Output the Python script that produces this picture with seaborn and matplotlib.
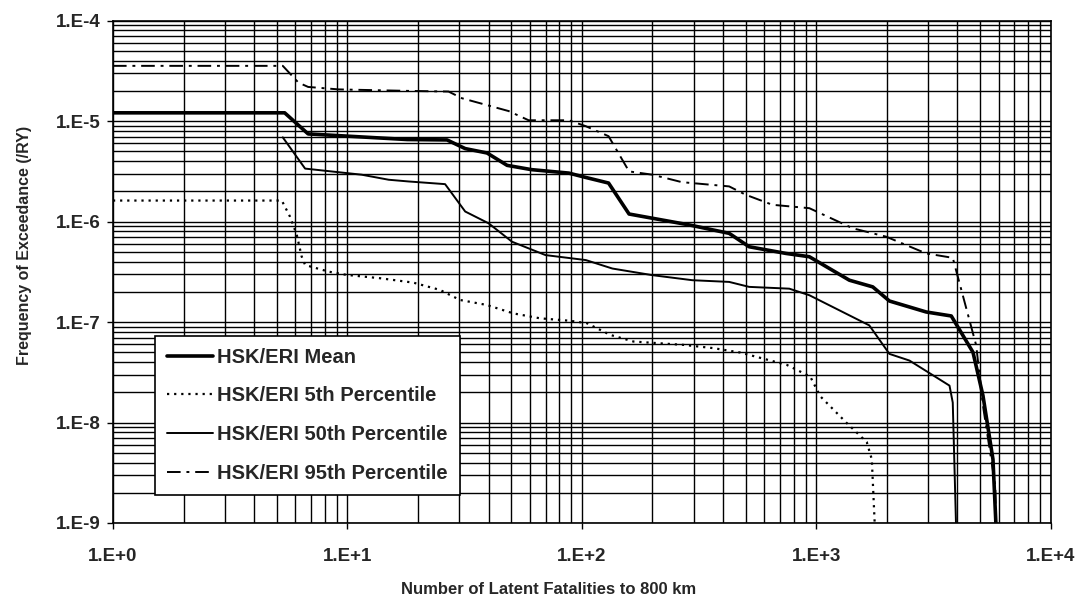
import numpy as np
import pandas as pd
import seaborn as sns
import matplotlib.pyplot as plt
from matplotlib.ticker import LogLocator, FuncFormatter, NullFormatter

# Exceedance curves
mean_x = [1, 5.4, 6.8, 18, 26.6, 31.8, 39.4, 48, 61, 88, 104, 130, 159, 200, 287, 425,
          517, 743, 934, 1384, 1741, 2051, 2943, 3765, 4660, 5140, 5670, 5860]
mean_y = [1.21e-5, 1.21e-5, 7.46e-6, 6.56e-6, 6.5e-6, 5.33e-6, 4.82e-6, 3.63e-6, 3.29e-6,
          3.04e-6, 2.75e-6, 2.42e-6, 1.19e-6, 1.08e-6, 9.27e-7, 7.64e-7, 5.62e-7, 4.82e-7,
          4.47e-7, 2.61e-7, 2.24e-7, 1.62e-7, 1.26e-7, 1.15e-7, 5.0e-8, 1.85e-8, 4.3e-9, 8e-10]

p5_x = [1, 5.25, 5.69, 6.08, 6.38, 6.6, 8.3, 9.9, 13.8, 19.1, 24.8, 30.2, 39.3, 51, 66.3,
        89, 105, 132, 166, 271, 364, 473, 748, 942, 1041, 1350, 1642, 1725, 1782]
p5_y = [1.62e-6, 1.62e-6, 1.12e-6, 7.4e-7, 4.5e-7, 3.7e-7, 3.18e-7, 2.95e-7, 2.73e-7,
        2.47e-7, 2.09e-7, 1.66e-7, 1.48e-7, 1.22e-7, 1.09e-7, 1.03e-7, 9.75e-8, 7.46e-8,
        6.4e-8, 5.93e-8, 5.5e-8, 4.98e-8, 3.75e-8, 2.87e-8, 1.82e-8, 9.86e-9, 6.38e-9,
        4.3e-9, 8e-10]

p50_x = [5.3, 6.6, 11.5, 15, 18.2, 26.1, 31.8, 40, 50.4, 70, 104, 135, 200, 296, 425, 517,
         767, 934, 1683, 2051, 2496, 3700, 3820, 3953]
p50_y = [6.9e-6, 3.37e-6, 2.93e-6, 2.61e-6, 2.51e-6, 2.36e-6, 1.26e-6, 9.62e-7, 6.3e-7,
         4.64e-7, 4.14e-7, 3.41e-7, 2.93e-7, 2.61e-7, 2.51e-7, 2.24e-7, 2.15e-7, 1.85e-7,
         9.27e-8, 4.82e-8, 4.14e-8, 2.33e-8, 1.58e-8, 8e-10]

p95_x = [1, 5.3, 6.18, 6.8, 9.16, 18.2, 27, 30.8, 48.7, 59.3, 88, 104, 130, 159, 200, 267,
         425, 500, 650, 934, 1430, 1985, 2943, 3820, 4810, 5140, 5800, 5860]
p95_y = [3.55e-5, 3.55e-5, 2.42e-5, 2.19e-5, 2.07e-5, 2.0e-5, 1.97e-5, 1.69e-5, 1.26e-5,
         1.02e-5, 1.02e-5, 8.9e-6, 7.08e-6, 3.16e-6, 2.93e-6, 2.47e-6, 2.24e-6, 1.85e-6,
         1.47e-6, 1.36e-6, 8.58e-7, 7.08e-7, 4.82e-7, 4.36e-7, 5.85e-8, 1.47e-8, 2.33e-9, 8e-10]

labels = ["HSK/ERI Mean", "HSK/ERI 5th Percentile",
          "HSK/ERI 50th Percentile", "HSK/ERI 95th Percentile"]

sns.set_style("white")
plt.rcParams['font.family'] = ['Liberation Sans', 'DejaVu Sans']
plt.rcParams['font.weight'] = 'bold'

fig = plt.figure(figsize=(10.8, 6.01), dpi=100)
ax = fig.add_axes([0.1046, 0.1298, 0.8683, 0.8358])

series = [
    (mean_x, mean_y, labels[0], dict(lw=2.6, ls='-')),
    (p5_x, p5_y, labels[1], dict(lw=1.6, ls=(0, (1, 2.2)))),
    (p50_x, p50_y, labels[2], dict(lw=1.4, ls='-')),
    (p95_x, p95_y, labels[3], dict(lw=1.4, ls=(0, (7, 3, 1.5, 3)))),
]
for xs, ys, lab, st in series:
    df = pd.DataFrame({'x': xs, 'y': ys})
    sns.lineplot(data=df, x='x', y='y', ax=ax, color='black', label=lab,
                 estimator=None, sort=False, **st)

ax.set_xscale('log')
ax.set_yscale('log')
ax.set_xlim(1, 1e4)
ax.set_ylim(1e-9, 1e-4)

ax.xaxis.set_major_locator(LogLocator(base=10, numticks=10))
ax.yaxis.set_major_locator(LogLocator(base=10, numticks=10))
ax.xaxis.set_minor_locator(LogLocator(base=10, subs=np.arange(2, 10), numticks=20))
ax.yaxis.set_minor_locator(LogLocator(base=10, subs=np.arange(2, 10), numticks=20))
fmt = FuncFormatter(lambda v, p: f"1.E{int(round(np.log10(v))):+d}")
ax.xaxis.set_major_formatter(fmt)
ax.yaxis.set_major_formatter(fmt)
ax.xaxis.set_minor_formatter(NullFormatter())
ax.yaxis.set_minor_formatter(NullFormatter())

ax.grid(True, which='both', color='black', lw=1.0)
ax.set_axisbelow(True)
ax.tick_params(which='major', direction='out', length=4, width=1, color='black',
               labelsize=13.5, left=True, bottom=True)
ax.tick_params(axis='x', which='major', pad=14)
ax.tick_params(axis='y', which='major', pad=5)
ax.tick_params(which='minor', length=0)
for s in ax.spines.values():
    s.set_color('black')
    s.set_linewidth(1.2)

ax.set_xlabel("Number of Latent Fatalities to 800 km", fontsize=12, fontweight='bold')
ax.set_ylabel("Frequency of Exceedance (/RY)", fontsize=11.5, fontweight='bold')
ax.xaxis.set_label_coords(0.465, -0.117)
ax.yaxis.set_label_coords(-0.086, 0.553)

leg = ax.legend(loc='lower left', bbox_to_anchor=(0.0448, 0.0557), fontsize=14.5,
                frameon=True, fancybox=False, framealpha=1, edgecolor='black',
                handlelength=2.3, labelspacing=0.98, borderpad=0.6, handletextpad=0.2,
                borderaxespad=0)
leg.get_frame().set_linewidth(1.2)

fig.savefig('out.png', dpi=100)
